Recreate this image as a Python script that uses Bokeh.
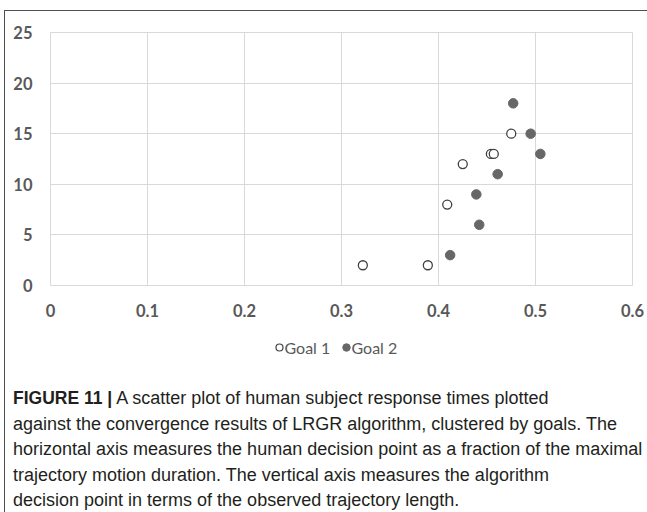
from bokeh.plotting import figure
from bokeh.layouts import column
from bokeh.models import Range1d, FixedTicker, Div
from bokeh.core.properties import value
from bokeh.embed import file_html
from bokeh.resources import INLINE

# ---- data ----
goal1_x = [0.322, 0.389, 0.409, 0.425, 0.454, 0.457, 0.475]
goal1_y = [2, 2, 8, 12, 13, 13, 15]
goal2_x = [0.412, 0.442, 0.439, 0.461, 0.477, 0.495, 0.505]
goal2_y = [3, 6, 9, 11, 18, 15, 13]
series_names = ["Goal 1", "Goal 2"]

x_ticks = [0, 0.1, 0.2, 0.3, 0.4, 0.5, 0.6]
x_tick_labels = ["0", "0.1", "0.2", "0.3", "0.4", "0.5", "0.6"]
y_ticks = [0, 5, 10, 15, 20, 25]
y_tick_labels = ["0", "5", "10", "15", "20", "25"]

caption_bold = "FIGURE 11 |"
caption_lines = [
    "A scatter plot of human subject response times plotted",
    "against the convergence results of LRGR algorithm, clustered by goals. The",
    "horizontal axis measures the human decision point as a fraction of the maximal",
    "trajectory motion duration. The vertical axis measures the algorithm",
    "decision point in terms of the observed trajectory length.",
]

# ---- styles ----
OPEN_LINE = "#404040"
FILLED = "#676767"
TICK_COLOR = "#595959"
GRID = "#d9d9d9"

# ---- layout (page pixels) ----
ORIGIN_X, ORIGIN_Y = 5, 11          # content origin inside the bordered column
W = 642
H1, H2, H3 = 319, 35, 147
ML, MT = 45, 21
FW, FH = 582, 253
MR = W - ML - FW
MB = H1 - MT - FH

p = figure(width=W, height=H1, x_range=Range1d(0, 0.6), y_range=Range1d(0, 25),
           output_backend="svg", toolbar_location=None,
           min_border_left=ML, min_border_right=MR, min_border_top=MT, min_border_bottom=MB)
p.background_fill_color = "white"
p.border_fill_color = "white"
p.outline_line_color = GRID

p.xaxis.ticker = FixedTicker(ticks=x_ticks)
p.yaxis.ticker = FixedTicker(ticks=y_ticks)
p.xaxis.major_label_overrides = dict(zip(x_ticks, x_tick_labels))
p.yaxis.major_label_overrides = dict(zip(y_ticks, y_tick_labels))
p.xgrid.ticker = FixedTicker(ticks=x_ticks)
p.ygrid.ticker = FixedTicker(ticks=y_ticks)
p.grid.grid_line_color = GRID
p.grid.grid_line_width = 1

for ax in (p.xaxis, p.yaxis):
    ax.axis_line_color = None
    ax.major_tick_line_color = None
    ax.minor_tick_line_color = None
    ax.major_tick_out = 0
    ax.major_tick_in = 0
    ax.minor_tick_out = 0
    ax.major_label_text_font = "Lato"
    ax.major_label_text_font_style = "bold"
    ax.major_label_text_font_size = "16.5px"
    ax.major_label_text_color = TICK_COLOR
p.xaxis.major_label_standoff = 18
p.yaxis.major_label_standoff = 18

p.scatter(goal1_x, goal1_y, marker="circle", size=9, fill_color="white",
          line_color=OPEN_LINE, line_width=1.3)
p.scatter(goal2_x, goal2_y, marker="circle", size=9.5, fill_color=FILLED,
          line_color=FILLED, line_width=1)

# ---- legend strip: frame aligned with the chart, x in page pixels ----
FL_PAGE = ORIGIN_X + ML
TOP2 = ORIGIN_Y + H1
q = figure(width=W, height=H2, x_range=Range1d(FL_PAGE, FL_PAGE + FW), y_range=Range1d(H2, 0),
           output_backend="svg", toolbar_location=None,
           x_axis_location=None, y_axis_location=None,
           min_border_left=ML, min_border_right=MR, min_border_top=0, min_border_bottom=0)
q.grid.visible = False
q.outline_line_color = None
q.background_fill_color = "white"
q.border_fill_color = "white"

LEG_Y = 347 - TOP2
q.scatter([279], [LEG_Y], marker="circle", size=7, fill_color="white",
          line_color=OPEN_LINE, line_width=1.2)
q.scatter([346], [LEG_Y], marker="circle", size=7.5, fill_color=FILLED,
          line_color=FILLED)
q.text([284, 351], [LEG_Y, LEG_Y], text=series_names,
       text_font=value("Lato"), text_font_size="16px", text_color=TICK_COLOR,
       text_baseline="middle", text_align="left")

# ---- caption ----
cap_html = (
    '<div style="padding: 21px 0 0 8px; font-family: \'Liberation Sans\', Arial, sans-serif; '
    'font-size: 18px; line-height: 25.5px; color: #231f20; white-space: nowrap;">'
    '<b style="font-size: 17.5px;">' + caption_bold + '</b> '
    + "<br>".join(caption_lines) + '</div>'
)
cap = Div(text=cap_html, width=W, height=H3, margin=0)

layout = column(p, q, cap, spacing=0)
layout.styles = {"margin-left": "4px", "margin-top": "10px",
                 "border-top": "1px solid #505050", "border-left": "1px solid #505050"}

open("out.html", "w").write(file_html(layout, INLINE))
